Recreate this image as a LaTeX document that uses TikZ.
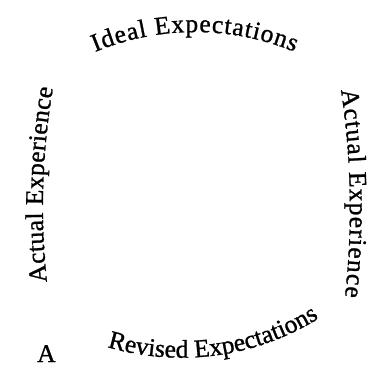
\documentclass[tikz,border=0pt]{standalone}
\usepackage{fontspec}
\setmainfont{Liberation Serif}
\newfontfamily\lblfam{Liberation Serif}[FakeBold=1]
\usetikzlibrary{decorations.text}
\newcommand{\lblfont}{\lblfam\fontsize{25.5}{29}\selectfont}
\tikzset{
  arctext/.style={decorate, decoration={text along path, text={|\lblfont|#1}, text align={fit to path}}},
  plainlabel/.style={font=\lblfont, inner sep=0pt, anchor=base west}
}
\begin{document}
\begin{tikzpicture}[x=1pt,y=1pt]
\useasboundingbox (0,0) rectangle (382,378);
% top
\path[arctext={Ideal Expectations}] (95.1,326) arc[start angle=112.6, end angle=67.5, radius=260];
% left, reading upwards
\path[arctext={Actual Experience}] (47,96) arc[start angle=186.2, end angle=170.26, radius=700];
% right, reading downwards
\path[arctext={Actual Experience}] (341,288) arc[start angle=8.54, end angle=-6.33, radius=800];
% bottom
\path[arctext={Revised Expectations}] (107.3,31) arc[start angle=253.5, end angle=302, radius=260];
\node[plainlabel] (lblA) at (37,16) {A};
\end{tikzpicture}
\end{document}
